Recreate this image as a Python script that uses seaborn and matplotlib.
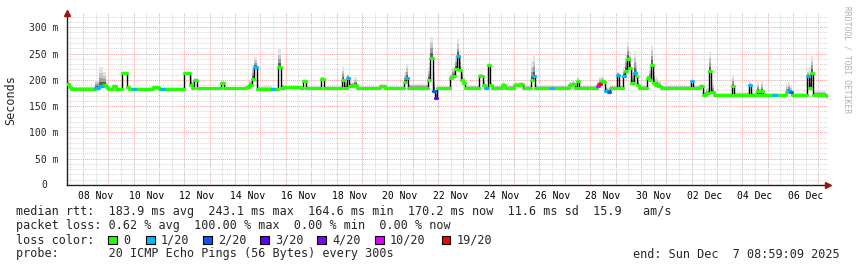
import numpy as np
import pandas as pd
import matplotlib
matplotlib.use("Agg")
import matplotlib.pyplot as plt
import matplotlib.dates as mdates
from matplotlib.ticker import MultipleLocator, FuncFormatter, NullFormatter
from matplotlib.patches import Rectangle
import seaborn as sns

# ---- data (days since 2025-11-07 09:00, median rtt in ms, loss count, smoke top in ms)
days = [0.00, 0.08, 0.16, 1.10, 1.26, 1.42, 1.54, 1.62, 1.81, 1.93,
        2.17, 2.36, 2.44, 2.60, 2.68, 3.39, 3.63, 3.71, 3.82, 4.61,
        4.85, 4.93, 5.01, 5.12, 6.07, 6.19, 7.06, 7.17, 7.29, 7.37,
        7.49, 8.08, 8.16, 8.32, 8.44, 8.55, 9.18, 9.30, 9.42, 10.01,
        10.13, 10.76, 10.84, 10.92, 11.04, 11.12, 11.31, 11.43, 12.34, 12.53,
        13.28, 13.36, 13.44, 14.23, 14.31, 14.43, 14.51, 14.58, 15.02, 15.10,
        15.18, 15.29, 15.37, 15.45, 15.53, 15.61, 15.69, 16.24, 16.40, 16.48,
        16.56, 16.59, 16.67, 16.75, 17.15, 17.26, 17.62, 17.86, 17.97, 18.29,
        18.37, 18.45, 19.08, 19.16, 19.79, 19.91, 20.02, 20.10, 20.18, 20.89,
        20.97, 21.05, 21.17, 21.21, 21.32, 21.40, 21.68, 21.76, 21.92, 21.99,
        22.07, 22.15, 22.23, 22.31, 22.35, 22.43, 22.47, 22.55, 22.86, 22.94,
        23.02, 23.10, 23.18, 23.29, 23.41, 24.60, 24.67, 24.95, 25.07, 25.19,
        25.31, 25.38, 25.50, 26.21, 26.29, 26.88, 26.96, 27.20, 27.27, 27.35,
        27.43, 27.83, 27.95, 28.34, 28.42, 28.50, 28.58, 29.17, 29.25, 29.33,
        29.41, 29.92, 30.00]

median_ms = [192, 186, 183, 184, 188, 191, 186, 183, 188, 183,
             213, 187, 183, 183, 183, 186, 183, 183, 183, 213,
             190, 185, 200, 184, 193, 184, 186, 190, 202, 224,
             183, 183, 183, 224, 185, 186, 185, 197, 185, 202,
             185, 185, 200, 185, 204, 188, 190, 185, 188, 185,
             195, 204, 185, 200, 242, 178, 166, 184, 184, 204,
             208, 220, 245, 218, 200, 194, 185, 207, 190, 185,
             185, 228, 190, 185, 190, 185, 190, 192, 185, 200,
             207, 185, 185, 185, 190, 192, 185, 197, 185, 188,
             192, 197, 195, 178, 177, 185, 210, 185, 207, 217,
             239, 223, 194, 194, 213, 207, 190, 185, 204, 200,
             229, 194, 190, 188, 185, 197, 185, 188, 172, 175,
             217, 176, 171, 188, 171, 190, 171, 178, 172, 178,
             171, 171, 171, 176, 178, 176, 171, 207, 185, 213,
             171, 170, 170]

loss = [0, 0, 0, 1, 1, 0, 0, 0, 0, 0,
        0, 0, 0, 1, 0, 0, 0, 1, 0, 0,
        0, 0, 0, 0, 0, 0, 0, 0, 0, 1,
        0, 1, 0, 0, 0, 0, 0, 0, 0, 0,
        0, 0, 0, 0, 1, 0, 0, 0, 0, 0,
        0, 1, 0, 0, 0, 2, 3, 0, 0, 0,
        0, 0, 1, 0, 0, 0, 0, 0, 0, 1,
        0, 0, 0, 0, 0, 0, 0, 0, 0, 0,
        1, 0, 1, 0, 0, 0, 0, 0, 0, 10,
        19, 0, 0, 1, 2, 0, 1, 0, 1, 0,
        0, 0, 0, 0, 1, 0, 0, 0, 0, 0,
        0, 0, 0, 0, 0, 1, 0, 0, 0, 0,
        0, 0, 0, 0, 0, 1, 0, 0, 0, 0,
        0, 1, 0, 0, 1, 2, 0, 1, 0, 0,
        0, 0, 0]

smoke_hi = [198, 192, 187, 200, 224, 215, 195, 186, 192, 186,
            216, 190, 186, 186, 186, 189, 186, 186, 186, 216,
            208, 200, 203, 187, 197, 187, 190, 200, 228, 243,
            188, 186, 186, 258, 192, 189, 188, 201, 188, 206,
            188, 188, 225, 200, 212, 196, 205, 188, 192, 188,
            215, 230, 192, 225, 281, 215, 180, 188, 188, 212,
            225, 245, 277, 255, 225, 205, 190, 212, 200, 189,
            189, 232, 196, 189, 195, 189, 196, 196, 189, 235,
            245, 190, 189, 189, 196, 198, 189, 205, 189, 200,
            205, 205, 200, 188, 186, 189, 215, 190, 225, 250,
            272, 255, 220, 225, 255, 235, 205, 190, 210, 225,
            265, 225, 205, 198, 189, 201, 189, 192, 178, 185,
            252, 195, 175, 208, 176, 196, 176, 195, 185, 198,
            175, 175, 175, 192, 195, 188, 175, 218, 225, 245,
            178, 174, 174]

loss_levels = ["0", "1/20", "2/20", "3/20", "4/20", "10/20", "19/20"]
loss_values = [0, 1, 2, 3, 4, 10, 19]
loss_colors = ["#26ff00", "#00b8ff", "#0059ff", "#5e00ff", "#7e00ff", "#dd00ff", "#ff0000"]

legend_rtt = "median rtt:  183.9 ms avg  243.1 ms max  164.6 ms min  170.2 ms now  11.6 ms sd  15.9   am/s"
legend_loss = "packet loss: 0.62 % avg  100.00 % max  0.00 % min  0.00 % now"
legend_probe = "probe:       20 ICMP Echo Pings (56 Bytes) every 300s"
legend_end = "end: Sun Dec  7 08:59:09 2025"

# ---- setup
sns.set_style("white")
plt.rcParams['font.family'] = ['DejaVu Sans Mono']

W, H = 857, 267
start = pd.Timestamp("2025-11-07 09:00")
times = start + pd.to_timedelta(np.array(days), unit="D")
med = np.array(median_ms, dtype=float)
hi = np.array(smoke_hi, dtype=float)

fig = plt.figure(figsize=(W / 100, H / 100), dpi=100)
fig.patch.set_facecolor("white")
ax = fig.add_axes([67 / W, (H - 185) / H, 761 / W, 172.5 / H])
ax.set_facecolor("white")

# smoke
for frac, col in [(1.0, "#e4e4e4"), (0.7, "#c6c6c6"), (0.45, "#9c9c9c"), (0.22, "#606060")]:
    ax.fill_between(times, med, med + frac * (hi - med), step="post", color=col, lw=0, zorder=2)

# black median connector
sns.lineplot(x=times, y=med, drawstyle="steps-post", color="black", lw=1.0, ax=ax, zorder=3)

# coloured median segments by loss
pal = {lbl: c for lbl, c in zip(loss_levels, loss_colors)}
lbl_of = {v: l for v, l in zip(loss_values, loss_levels)}
rows = []
for i in range(len(days) - 1):
    rows.append((times[i], med[i], i, lbl_of[loss[i]]))
    rows.append((times[i + 1], med[i], i, lbl_of[loss[i]]))
seg = pd.DataFrame(rows, columns=["time", "rtt", "seg", "loss"])
sns.lineplot(data=seg, x="time", y="rtt", units="seg", estimator=None, hue="loss",
             palette=pal, lw=2.3, legend=False, ax=ax, zorder=4, sort=False)

# axes / grid
ax.set_xlim(times[0], times[-1])
ax.set_ylim(0, 328)
ax.set_xlabel("")
ax.set_ylabel("")
ax.yaxis.set_major_locator(MultipleLocator(50))
ax.yaxis.set_minor_locator(MultipleLocator(10))
ax.yaxis.set_major_formatter(FuncFormatter(lambda v, p: "" if v == 0 else f"{int(v)} m"))
ax.xaxis.set_major_locator(mdates.DayLocator())
ax.xaxis.set_minor_locator(mdates.HourLocator(byhour=[12]))
ax.xaxis.set_major_formatter(NullFormatter())


def xfmt(v, p):
    d = mdates.num2date(v)
    return d.strftime("%d %b") if d.day % 2 == 0 else ""


ax.xaxis.set_minor_formatter(FuncFormatter(xfmt))
ax.grid(which="major", color="#f2a0a0", ls=(0, (1, 1)), lw=0.7)
ax.grid(which="minor", color="#d6d6d6", ls=(0, (1, 1)), lw=0.7)
ax.set_axisbelow(True)
ax.tick_params(axis="x", which="both", length=0, labelsize=7, pad=4, colors="black")
ax.tick_params(axis="y", which="major", length=3, direction="out", labelsize=7, pad=3, color="#404040")
ax.tick_params(axis="y", which="minor", length=2, direction="out", color="#808080")
for s in ["top", "right"]:
    ax.spines[s].set_visible(False)
for s in ["left", "bottom"]:
    ax.spines[s].set_color("#202020")
    ax.spines[s].set_linewidth(1.0)
ax.annotate("0", xy=(0, 0), xycoords=("axes fraction", "data"), xytext=(-14.4, 0),
            textcoords="offset points", ha="right", va="center", fontsize=7)
ax.plot([0], [1.0], marker="^", color="#9a1515", ms=4, transform=ax.transAxes, clip_on=False, zorder=6)
ax.plot([1.0], [0], marker=">", color="#9a1515", ms=4, transform=ax.transAxes, clip_on=False, zorder=6)


def fx(x):
    return x / W


def fy(y):
    return 1 - y / H


fs = 8.5
fig.text(fx(11), fy(100), "Seconds", rotation=90, ha="center", va="center", fontsize=fs)
fig.text(fx(847), fy(60), "RRDTOOL / TOBI OETIKER", rotation=270, ha="center", va="center",
         fontsize=5.8, color="#b0b0b0")
fig.text(fx(16), fy(215), legend_rtt, ha="left", va="baseline", fontsize=fs)
fig.text(fx(16), fy(229.5), legend_loss, ha="left", va="baseline", fontsize=fs)
fig.text(fx(16), fy(243.5), "loss color:", ha="left", va="baseline", fontsize=fs)
box_x = [108, 146, 203, 260, 317, 375, 442]
for bx, lbl, c in zip(box_x, loss_levels, loss_colors):
    fig.add_artist(Rectangle((fx(bx), fy(244)), 8.5 / W, 8.5 / H, transform=fig.transFigure,
                             facecolor=c, edgecolor="black", lw=0.8))
    fig.text(fx(bx + 15), fy(243.5), lbl, ha="left", va="baseline", fontsize=fs)
fig.text(fx(16), fy(257.5), legend_probe, ha="left", va="baseline", fontsize=fs)
fig.text(fx(840), fy(257.5), legend_end, ha="right", va="baseline", fontsize=fs)

fig.savefig("out.png", dpi=100, facecolor="white")
